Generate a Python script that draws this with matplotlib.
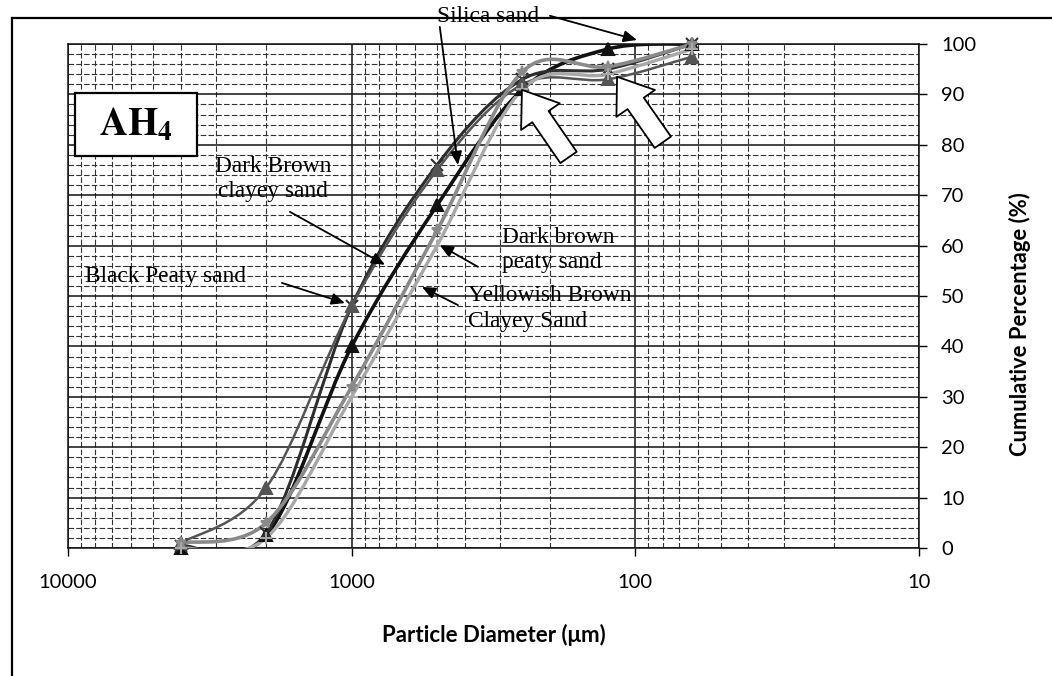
import numpy as np
import matplotlib
matplotlib.use('Agg')
import matplotlib.pyplot as plt
from matplotlib.path import Path
from matplotlib.patches import PathPatch, Rectangle
from matplotlib.lines import Line2D

plt.rcParams['font.family'] = ['Lato', 'DejaVu Sans']
plt.rcParams['mathtext.fontset'] = 'stix'

# sieve sizes (um) and cumulative percentage passing
x_um = [4000, 2000, 1000, 500, 250, 125, 63]
silica = [0.0, 2.5, 40.0, 68.0, 91.0, 99.0, 100.0]
dark_brown_clayey = [0.5, 3.0, 48.0, 76.0, 93.0, 95.0, 100.0]
black_peaty = [1.0, 12.0, 48.0, 75.0, 92.0, 93.0, 97.5]
dark_brown_peaty = [1.0, 5.0, 32.0, 63.0, 94.5, 95.5, 100.0]
yellowish = [0.0, 2.0, 30.0, 60.0, 91.0, 94.0, 99.0]

series_names = ['Silica sand', 'Dark Brown clayey sand', 'Black Peaty sand',
                'Dark brown peaty sand', 'Yellowish Brown Clayey Sand']
series_vals = [silica, dark_brown_clayey, black_peaty, dark_brown_peaty, yellowish]
series_col = ['#111111', '#2e2e2e', '#555555', '#8a8a8a', '#a8a8a8']
series_mk = ['^', 'x', '^', '*', '+']
series_lw = [2.6, 2.2, 1.8, 2.6, 2.4]

y_ticks = list(range(0, 101, 10))
x_ticks = [10000, 1000, 100, 10]
x_ticklabels = ['10000', '1000', '100', '10']


def smooth_path(xs, ys):
    # excel-like smoothed line: catmull-rom segments as cubic beziers in log-x space
    lx = np.log10(np.asarray(xs, float))
    yy = np.asarray(ys, float)
    n = len(lx)
    verts = [(xs[0], ys[0])]
    codes = [Path.MOVETO]
    for i in range(n - 1):
        i0 = max(i - 1, 0)
        i3 = min(i + 2, n - 1)
        c1 = (lx[i] + (lx[i + 1] - lx[i0]) / 6, yy[i] + (yy[i + 1] - yy[i0]) / 6)
        c2 = (lx[i + 1] - (lx[i3] - lx[i]) / 6, yy[i + 1] - (yy[i3] - yy[i]) / 6)
        verts += [(10 ** c1[0], c1[1]), (10 ** c2[0], c2[1]), (xs[i + 1], ys[i + 1])]
        codes += [Path.CURVE4] * 3
    return Path(verts, codes)


fig = plt.figure(figsize=(10.52, 6.76), dpi=100)
ax = fig.add_axes([0.0646, 0.1893, 0.8090, 0.7456])
ax.set_xscale('log')
ax.set_xlim(10000, 10)
ax.set_ylim(0, 100)

ax.yaxis.tick_right()
ax.set_yticks(y_ticks)
ax.set_yticks(np.arange(0, 101, 2), minor=True)
ax.set_xticks(x_ticks)
ax.set_xticklabels(x_ticklabels)
ax.tick_params(which='major', direction='out', length=6, width=1, labelsize=14.5, pad=10, colors='black')
ax.tick_params(axis='x', pad=13)
ax.tick_params(which='minor', length=0)

ax.grid(which='major', color='#111111', lw=1.1, ls='-')
ax.grid(which='minor', color='#333333', lw=0.8, ls=(0, (5, 2)))
ax.set_axisbelow(True)
for s in ax.spines.values():
    s.set_color('#111111')
    s.set_linewidth(1.1)

for vals, col, mk, lw in zip(series_vals, series_col, series_mk, series_lw):
    ax.add_patch(PathPatch(smooth_path(x_um, vals), fill=False, edgecolor=col, lw=lw, zorder=3))
    ax.plot(x_um, vals, ls='none', marker=mk, ms=8, mfc=col, mec=col, mew=1.5, zorder=4, clip_on=False)

# labels with arrows
serif = 'Liberation Serif'
tfs = 16.8
ax.text(331, 105.4, 'Silica sand', family=serif, fontsize=tfs, ha='center', va='center', clip_on=False)
ax.text(1894, 73.2, 'Dark Brown\nclayey sand', family=serif, fontsize=tfs, ha='center', va='center',
        linespacing=1.3)
ax.text(8710, 53.8, 'Black Peaty sand', family=serif, fontsize=tfs, ha='left', va='center')
ax.text(295, 59.1, 'Dark brown\npeaty sand', family=serif, fontsize=tfs, ha='left', va='center',
        linespacing=1.25)
ax.text(389, 47.5, 'Yellowish Brown\nClayey Sand', family=serif, fontsize=tfs, ha='left', va='center',
        linespacing=1.3)

arrows = [((489, 103.4), (422, 76.0)),
          ((200, 105.6), (98.7, 100.8)),
          ((1650, 66.7), (763, 56.2)),
          ((1761, 52.6), (1056, 48.6)),
          ((359, 55.8), (489, 60.1)),
          ((422, 48.2), (565, 51.8))]
for start, tip in arrows:
    ax.annotate('', xy=tip, xytext=start, annotation_clip=False,
                arrowprops=dict(arrowstyle='-|>,head_length=0.8,head_width=0.35', color='black', lw=1.3,
                                shrinkA=0, shrinkB=0), zorder=6)

# white block arrows marking the points
for tail, tip in [((172, 77.5), (251, 90.9)), ((80, 80.5), (116, 93.5))]:
    ax.annotate('', xy=tip, xytext=tail,
                arrowprops=dict(arrowstyle='simple,head_length=0.9,head_width=1.3,tail_width=0.55',
                                fc='white', ec='black', lw=1.3, mutation_scale=26,
                                shrinkA=0, shrinkB=0), zorder=6)

# AH4 box
ax.add_patch(Rectangle((75 / 1052, 1 - 156 / 676), 122 / 1052, 63 / 676, transform=fig.transFigure,
                       fc='white', ec='black', lw=1.6, zorder=7, clip_on=False))
ax.text(136 / 1052, 1 - 124 / 676, r'$\mathbf{AH_4}$', transform=fig.transFigure, fontsize=28,
        ha='center', va='center', zorder=8)

fig.text(493.5 / 1052, 1 - 635 / 676, 'Particle Diameter (\u03bcm)', fontsize=16, fontweight='bold',
         ha='center', va='center')
fig.text(1020 / 1052, 1 - 324 / 676, 'Cumulative Percentage (%)', fontsize=15.8, fontweight='bold',
         rotation=90, ha='center', va='center')

# chart area border (scanned page)
fig.add_artist(Line2D([12 / 1052, 1.0], [1 - 18 / 676, 1 - 18 / 676], transform=fig.transFigure,
                      color='black', lw=1.6))
fig.add_artist(Line2D([12 / 1052, 12 / 1052], [0.0, 1 - 18 / 676], transform=fig.transFigure,
                      color='black', lw=1.6))

fig.savefig('out.png', dpi=100)
